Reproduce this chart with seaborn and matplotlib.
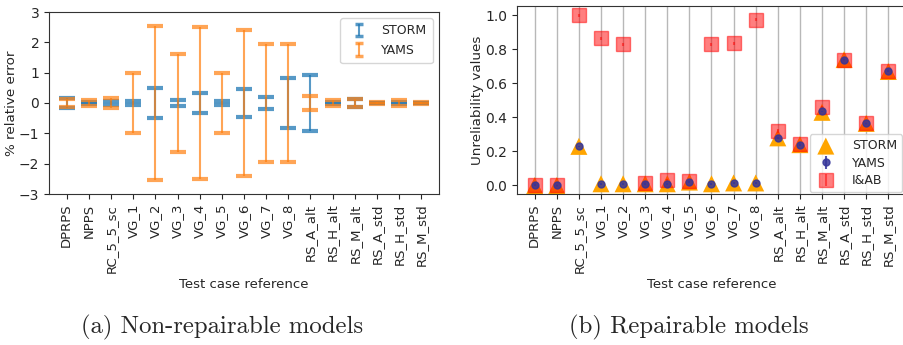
import numpy as np
import pandas as pd
import seaborn as sns
import matplotlib
matplotlib.use("Agg")
import matplotlib.pyplot as plt

cases = ["DPRPS", "NPPS", "RC_5_5_sc", "VG_1", "VG_2", "VG_3", "VG_4", "VG_5",
         "VG_6", "VG_7", "VG_8", "RS_A_alt", "RS_H_alt", "RS_M_alt",
         "RS_A_std", "RS_H_std", "RS_M_std"]

# (a) half-width of % relative error
storm_err = [0.15, 0.02, 0.05, 0.08, 0.50, 0.10, 0.32, 0.08, 0.45, 0.20, 0.82,
             0.93, 0.02, 0.12, 0.01, 0.02, 0.01]
yams_err = [0.12, 0.10, 0.15, 1.00, 2.55, 1.60, 2.50, 1.00, 2.42, 1.95, 1.95,
            0.22, 0.10, 0.12, 0.02, 0.10, 0.03]

# (b) unreliability values
storm_unrel = [0.000, 0.000, 0.230, 0.010, 0.010, 0.010, 0.010, 0.020, 0.010,
               0.015, 0.015, 0.280, 0.240, 0.430, 0.740, 0.365, 0.670]
yams_unrel = [0.003, 0.000, 0.230, 0.010, 0.010, 0.010, 0.010, 0.020, 0.010,
              0.015, 0.015, 0.280, 0.240, 0.435, 0.740, 0.365, 0.675]
iab_unrel = [0.005, 0.000, 1.000, 0.865, 0.830, 0.015, 0.030, 0.025, 0.830,
             0.835, 0.975, 0.320, 0.245, 0.460, 0.740, 0.365, 0.675]
iab_err = [0.01] * 17
yams_u_err = [0.005] * 17

sns.set_style("ticks")
plt.rcParams["font.family"] = ["DejaVu Sans"]
plt.rcParams["axes.edgecolor"] = "#333333"

W, H = 904, 345
fig = plt.figure(figsize=(W / 100, H / 100), dpi=100)

def px_axes(l, t, r, b):
    return fig.add_axes([l / W, 1 - b / H, (r - l) / W, (b - t) / H])

x = np.arange(len(cases))
zeros = np.zeros(len(cases))

# ---------- (a) ----------
ax1 = px_axes(49, 12, 439, 194)
ax1.errorbar(x, zeros, yerr=storm_err, fmt="none", ecolor="#1f77b4",
             elinewidth=1.5, capsize=5.5, capthick=3, alpha=0.75)
ax1.errorbar(x, zeros, yerr=yams_err, fmt="none", ecolor="#ff7f0e",
             elinewidth=1.5, capsize=5.5, capthick=3, alpha=0.7)
# legend proxies (smaller caps, no visible data)
h_s = ax1.errorbar([np.nan], [np.nan], yerr=[0.1], fmt="none", ecolor="#1f77b4",
                   elinewidth=1.5, capsize=3, capthick=2.5, alpha=0.75, label="STORM")
h_y = ax1.errorbar([np.nan], [np.nan], yerr=[0.1], fmt="none", ecolor="#ff7f0e",
                   elinewidth=1.5, capsize=3, capthick=2.5, alpha=0.7, label="YAMS")
ax1.set_ylim(-3, 3)
ax1.set_xlim(-0.8, len(cases) - 0.2)
ax1.set_xticks(x)
ax1.set_xticklabels(cases, rotation=90, fontsize=9.5)
ax1.tick_params(axis="y", labelsize=10)
ax1.set_ylabel("% relative error", fontsize=9.7, labelpad=0.5)
ax1.set_xlabel("Test case reference", fontsize=9.5)
ax1.legend(handles=[h_s, h_y], labels=["STORM", "YAMS"], loc="upper right",
           fontsize=9, handlelength=2.0, borderpad=0.5,
           bbox_to_anchor=(1.0, 1.0))

# ---------- (b) ----------
ax2 = px_axes(517, 6, 906, 194)
ax2.set_axisbelow(True)
ax2.xaxis.grid(True, color="#b8b8b8", linewidth=1)
sns.scatterplot(x=x, y=storm_unrel, marker="^", s=150, color="orange",
                edgecolor="none", ax=ax2, label="STORM", zorder=2)
ax2.errorbar(x, iab_unrel, yerr=iab_err, fmt="s", color="red",
             markersize=10, alpha=0.5, label="I&AB", zorder=3)
ax2.errorbar(x, yams_unrel, yerr=yams_u_err, fmt="o", color="#35359a",
             markersize=5, alpha=0.85, label="YAMS", zorder=4)
ax2.set_ylim(-0.05, 1.055)
ax2.set_xlim(-0.8, len(cases) - 0.2)
ax2.set_xticks(x)
ax2.set_xticklabels(cases, rotation=90, fontsize=9.5)
ax2.set_yticks([0.0, 0.2, 0.4, 0.6, 0.8, 1.0])
ax2.tick_params(axis="y", labelsize=10)
ax2.set_ylabel("Unreliability values", fontsize=9.7, labelpad=1)
ax2.set_xlabel("Test case reference", fontsize=9.5)
handles, labels = ax2.get_legend_handles_labels()
order = [labels.index(l) for l in ["STORM", "YAMS", "I&AB"]]
ax2.legend([handles[i] for i in order], [labels[i] for i in order],
           loc="lower right", bbox_to_anchor=(0.995, 0.0), borderaxespad=0.15,
           fontsize=9, handlelength=1.8, borderpad=0.4, labelspacing=0.35,
           handletextpad=1.2)

# captions
fig.text(222 / W, 1 - 327 / H, "(a) Non-repairable models", ha="center",
         va="center", fontsize=17.8, family="cmr10")
fig.text(689 / W, 1 - 327 / H, "(b) Repairable models", ha="center",
         va="center", fontsize=17.8, family="cmr10")

fig.savefig("out.png", dpi=100)
